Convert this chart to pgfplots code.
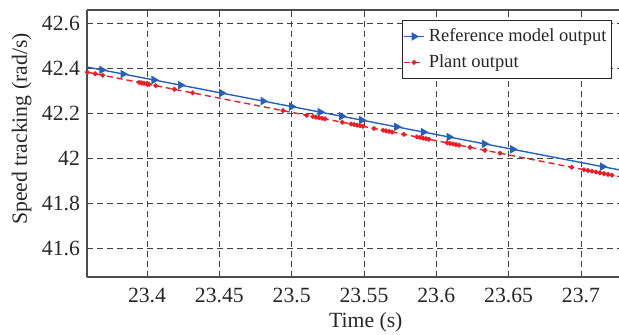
\documentclass[border=0pt]{standalone}
\usepackage{fontspec}
\setmainfont{Liberation Serif}
\usepackage{pgfplots}
\pgfplotsset{compat=1.18}
\definecolor{refblue}{RGB}{40,95,185}
\definecolor{plantred}{RGB}{235,30,40}
\begin{document}
\begin{tikzpicture}
\begin{axis}[
  name=ax,
  scale only axis,
  width=266pt, height=133.5pt,
  xmin=23.3585, xmax=23.7263,
  ymin=41.474, ymax=42.662,
  axis x line=box, axis y line*=left,
  axis line style={black!70, line width=0.6pt},
  xtick={23.4,23.45,...,23.71},
  ytick={41.6,41.8,42,42.2,42.4,42.6},
  scaled ticks=false,
  xticklabel style={/pgf/number format/fixed,/pgf/number format/precision=2},
  yticklabel style={/pgf/number format/fixed,/pgf/number format/precision=1},
  /pgf/number format/assume math mode=true,
  major tick length=0pt,
  tick label style={font=\fontsize{10.85}{13}\selectfont, black!85},
  label style={font=\fontsize{10.85}{13}\selectfont, black!85},
  xticklabel style={yshift=-2pt},
  grid=major,
  major grid style={black!75, line width=0.45pt, dash pattern=on 3pt off 2pt},
  xlabel={Time (s)},
  ylabel={Speed tracking (rad/s)},
  xlabel style={at={(axis description cs:0.524,0)}, anchor=base, yshift=-25.5pt},
  ylabel style={at={(axis description cs:0,0.554)}, anchor=base, yshift=30pt},
  legend style={at={(0.9868,0.9625)}, anchor=north east, draw=black!85, line width=0.5pt,
    font=\fontsize{9.25}{11}\selectfont, inner xsep=0.5pt, inner ysep=2pt, row sep=1pt, cells={anchor=west}, text=black!85},
  legend image code/.code={\draw[mark indices={2}] plot coordinates {(0pt,0pt) (5pt,0pt) (10pt,0pt)};},
]
\addplot[refblue, line width=0.7pt, mark=triangle*, mark size=1.8pt,
  mark options={solid, rotate=-90, fill=refblue}, mark indices={2,...,17}] coordinates {
(23.3585,42.4082) (23.3687,42.3955) (23.3834,42.3772) (23.4048,42.3506)
(23.4232,42.3277) (23.4516,42.2924) (23.4802,42.2568) (23.5000,42.2322)
(23.5196,42.2078) (23.5346,42.1892) (23.5484,42.1720) (23.5726,42.1419)
(23.5910,42.1190) (23.6088,42.0969) (23.6332,42.0665) (23.6528,42.0422)
(23.7149,41.9649) (23.7263,41.9508)
};
\addlegendentry{Reference model output}
\addplot[plantred, line width=0.7pt, dash pattern=on 3pt off 2pt, mark=*, mark size=0.85pt,
  mark options={solid, fill=plantred}, mark indices={1,...,52}] coordinates {
(23.3587,42.3850) (23.3641,42.3783) (23.3694,42.3716) (23.3945,42.3399)
(23.3962,42.3377) (23.3979,42.3355) (23.3997,42.3334) (23.4014,42.3312)
(23.4060,42.3253) (23.4189,42.3091) (23.4315,42.2932) (23.4940,42.2142)
(23.5104,42.1935) (23.5147,42.1880) (23.5168,42.1854) (23.5189,42.1828)
(23.5210,42.1801) (23.5230,42.1775) (23.5350,42.1624) (23.5410,42.1548)
(23.5431,42.1522) (23.5452,42.1496) (23.5472,42.1470) (23.5493,42.1444)
(23.5569,42.1348) (23.5631,42.1269) (23.5652,42.1243) (23.5673,42.1217)
(23.5694,42.1190) (23.5776,42.1086) (23.5866,42.0972) (23.5887,42.0946)
(23.5908,42.0920) (23.5929,42.0894) (23.5949,42.0867) (23.6074,42.0710)
(23.6094,42.0684) (23.6115,42.0658) (23.6136,42.0632) (23.6157,42.0605)
(23.6233,42.0509) (23.6336,42.0379) (23.6440,42.0248) (23.6936,41.9622)
(23.7021,41.9514) (23.7048,41.9479) (23.7076,41.9444) (23.7104,41.9409)
(23.7131,41.9375) (23.7159,41.9340) (23.7187,41.9305) (23.7214,41.9270)
(23.7263,41.9209)
};
\addlegendentry{Plant output}
\end{axis}
\pgfresetboundingbox
\path ([shift={(-43.5pt,-29pt)}]ax.south west) rectangle ([shift={(0pt,5pt)}]ax.north east);
\end{tikzpicture}
\end{document}
